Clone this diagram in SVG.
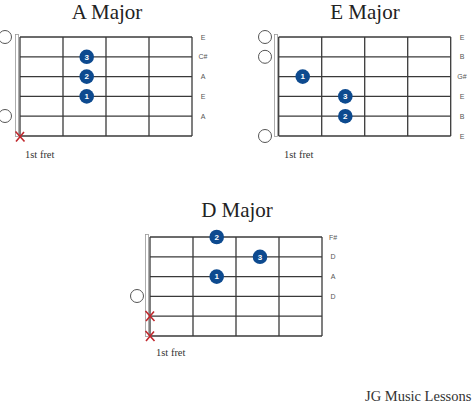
<svg xmlns="http://www.w3.org/2000/svg" width="474" height="409" viewBox="0 0 474 409">
<defs>
<style>
.title{font-family:"Liberation Serif",serif;font-size:21px;fill:#222;text-anchor:middle}
.fret{font-family:"Liberation Serif",serif;font-size:10.5px;fill:#333}
.lab{font-family:"Liberation Sans",sans-serif;font-size:7px;fill:#555;text-anchor:middle}
.nut{fill:#fff;stroke:#999;stroke-width:0.8}
.open{fill:#fff;stroke:#555;stroke-width:1}
.dot circle{fill:#0d4a8f}
.dot text{font-family:"Liberation Sans",sans-serif;font-size:8px;font-weight:bold;fill:#fff;text-anchor:middle}
.x path{stroke:#c0282d;stroke-width:1.6;fill:none}
.credit{font-family:"Liberation Serif",serif;font-size:14.5px;fill:#333}
</style>
<g id="gridA" stroke="#3a3a3a" stroke-width="1.3">
<line x1="20" y1="37" x2="192" y2="37"/><line x1="20" y1="56.8" x2="192" y2="56.8"/><line x1="20" y1="76.6" x2="192" y2="76.6"/><line x1="20" y1="96.4" x2="192" y2="96.4"/><line x1="20" y1="116.2" x2="192" y2="116.2"/><line x1="20" y1="136" x2="192" y2="136"/>
<line x1="20" y1="37" x2="20" y2="136"/><line x1="63" y1="37" x2="63" y2="136"/><line x1="106" y1="37" x2="106" y2="136"/><line x1="149" y1="37" x2="149" y2="136"/><line x1="192" y1="37" x2="192" y2="136"/>
</g>
</defs>

<g id="chart-a">
<text class="title" x="107" y="19">A Major</text>
<rect class="nut" x="15.5" y="34.5" width="3" height="102"/>
<use href="#gridA"/>
<circle class="open" cx="5" cy="37" r="6.5"/>
<circle class="open" cx="5" cy="116" r="6.5"/>
<g class="x"><path d="M15.5 131.5 L24.5 141.5 M24 132 L16 141.5"/></g>
<g class="dot"><circle cx="86.7" cy="56.8" r="7.3"/><text x="86.7" y="59.6">3</text></g>
<g class="dot"><circle cx="86.7" cy="76.6" r="7.3"/><text x="86.7" y="79.4">2</text></g>
<g class="dot"><circle cx="86.7" cy="96.4" r="7.3"/><text x="86.7" y="99.2">1</text></g>
<text class="lab" x="203" y="39.5">E</text>
<text class="lab" x="203" y="59.3">C#</text>
<text class="lab" x="203" y="79.1">A</text>
<text class="lab" x="203" y="98.9">E</text>
<text class="lab" x="203" y="118.7">A</text>
<text class="fret" x="25" y="158">1st fret</text>
</g>

<g id="chart-e">
<text class="title" x="365" y="19">E Major</text>
<rect class="nut" x="274.5" y="34.5" width="3" height="102"/>
<use href="#gridA" transform="translate(258.7,0)"/>
<circle class="open" cx="265" cy="37" r="6.5"/>
<circle class="open" cx="265" cy="56.8" r="6.5"/>
<circle class="open" cx="265" cy="136" r="6.5"/>
<g class="dot"><circle cx="302.7" cy="76.6" r="7.3"/><text x="302.7" y="79.4">1</text></g>
<g class="dot"><circle cx="345.3" cy="96.4" r="7.3"/><text x="345.3" y="99.2">3</text></g>
<g class="dot"><circle cx="345.3" cy="116.2" r="7.3"/><text x="345.3" y="119">2</text></g>
<text class="lab" x="462" y="39.5">E</text>
<text class="lab" x="462" y="59.3">B</text>
<text class="lab" x="462" y="79.1">G#</text>
<text class="lab" x="462" y="98.9">E</text>
<text class="lab" x="462" y="118.7">B</text>
<text class="lab" x="462" y="138.5">E</text>
<text class="fret" x="284" y="158">1st fret</text>
</g>

<g id="chart-d">
<text class="title" x="237" y="217">D Major</text>
<rect class="nut" x="145.5" y="234.5" width="3" height="102"/>
<use href="#gridA" transform="translate(130,200)"/>
<circle class="open" cx="137" cy="296" r="6.5"/>
<g class="x"><path d="M145.5 311 L154.5 321 M154 311.5 L146 321"/></g>
<g class="x"><path d="M145.5 331 L154.5 341 M154 331.5 L146 341"/></g>
<g class="dot"><circle cx="216.7" cy="237" r="7.3"/><text x="216.7" y="239.8">2</text></g>
<g class="dot"><circle cx="260" cy="256.8" r="7.3"/><text x="260" y="259.6">3</text></g>
<g class="dot"><circle cx="216.7" cy="276.6" r="7.3"/><text x="216.7" y="279.4">1</text></g>
<text class="lab" x="333" y="239.5">F#</text>
<text class="lab" x="333" y="259.3">D</text>
<text class="lab" x="333" y="279.1">A</text>
<text class="lab" x="333" y="298.9">D</text>
<text class="fret" x="156" y="356">1st fret</text>
</g>

<text class="credit" x="365" y="401">JG Music Lessons</text>
</svg>
